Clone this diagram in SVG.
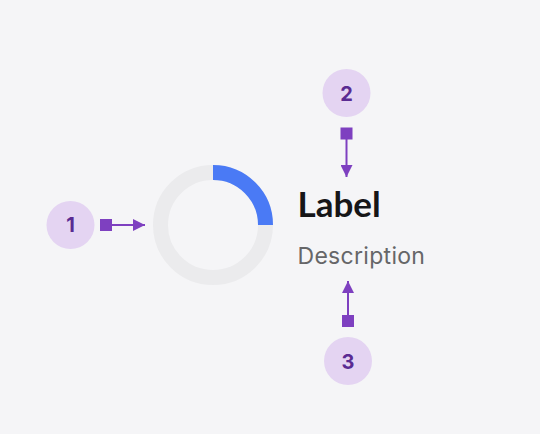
<svg xmlns="http://www.w3.org/2000/svg" width="540" height="434" viewBox="0 0 540 434">
<style>
.badge{fill:#e4d4f2}
.num{font-family:Inter,"Liberation Sans",sans-serif;font-weight:700;font-size:20px;fill:#5a2b92;text-anchor:middle}
.sq{fill:#7e40c0}
.ln{stroke:#7e40c0;stroke-width:2;fill:none}
</style>
<defs>
<marker id="ah" viewBox="0 0 12 12" refX="12" refY="6" markerWidth="12" markerHeight="12" markerUnits="userSpaceOnUse" orient="auto">
<path d="M0,0 L12,6 L0,12 Z" fill="#7e40c0"/>
</marker>
</defs>
<rect width="540" height="434" fill="#f5f5f7"/>
<g id="donut">
<circle cx="213" cy="225" r="52.5" fill="none" stroke="#ebebed" stroke-width="15"/>
<path d="M213,172.5 A52.5,52.5 0 0 1 265.5,225" fill="none" stroke="#4a7af5" stroke-width="15"/>
</g>
<g id="label">
<text x="297.5" y="217.3" font-family="Lato,Inter,'Liberation Sans',sans-serif" font-weight="700" font-size="35" fill="#161618">Label</text>
</g>
<g id="description">
<text x="297.5" y="264.3" font-family="Inter,'Liberation Sans',sans-serif" font-size="23" letter-spacing="0.3" fill="#666668">Description</text>
</g>
<g id="badge1">
<circle class="badge" cx="70.5" cy="225" r="24"/>
<text class="num" x="70.5" y="232.3">1</text>
</g>
<g id="badge2">
<circle class="badge" cx="346.5" cy="93" r="24"/>
<text class="num" x="346.5" y="100.5">2</text>
</g>
<g id="badge3">
<circle class="badge" cx="348" cy="361" r="24"/>
<text class="num" x="348" y="368.5">3</text>
</g>
<g id="connectors">
<rect class="sq" x="100" y="219" width="12" height="12"/>
<line class="ln" x1="112" y1="225" x2="145" y2="225" marker-end="url(#ah)"/>
<rect class="sq" x="340.5" y="127.5" width="12" height="12"/>
<line class="ln" x1="346.5" y1="139" x2="346.5" y2="177" marker-end="url(#ah)"/>
<rect class="sq" x="342" y="315" width="12" height="12"/>
<line class="ln" x1="348" y1="315" x2="348" y2="281" marker-end="url(#ah)"/>
</g>
</svg>
